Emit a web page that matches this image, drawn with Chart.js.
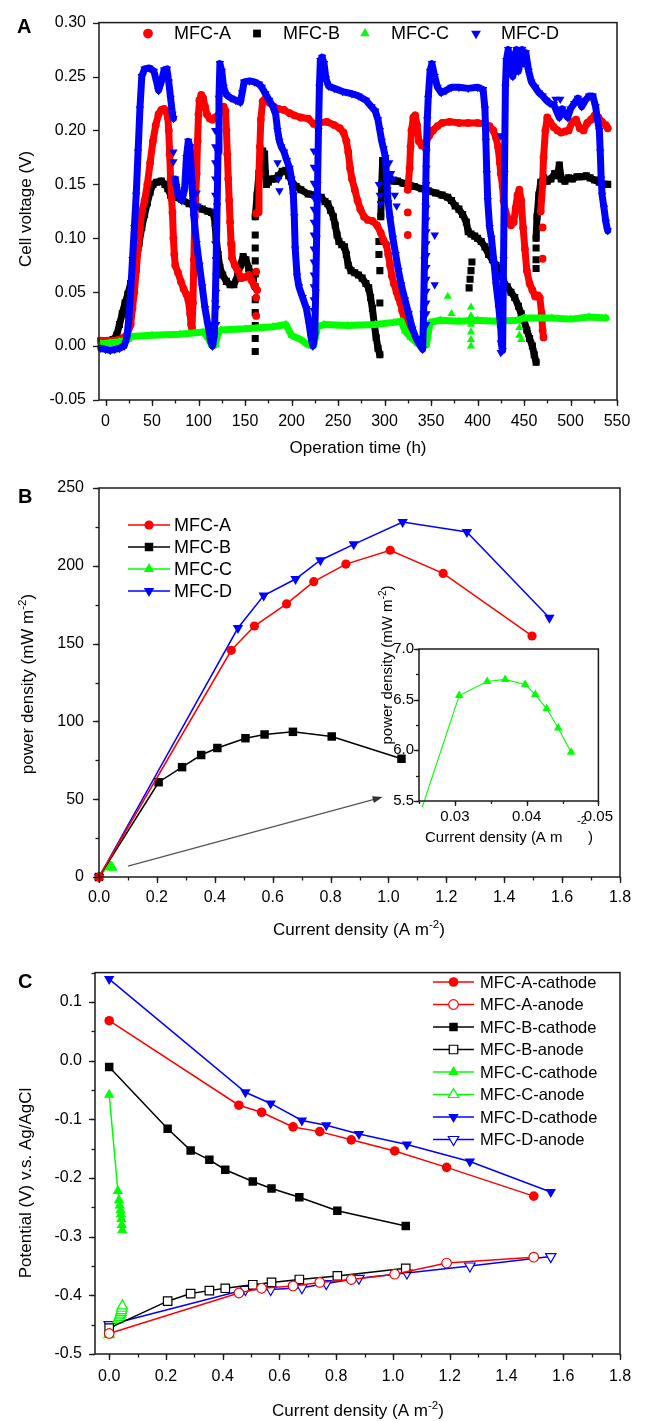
<!DOCTYPE html>
<html><head><meta charset="utf-8">
<script src="https://cdn.jsdelivr.net/npm/chart.js@4.4.1/dist/chart.umd.min.js"></script>
<style>
html,body{margin:0;padding:0;background:#fff;}
#wrap{position:relative;width:648px;height:1421px;overflow:hidden;background:#fff;}
canvas{position:absolute;}
</style></head><body><div id="wrap">
<canvas id="cA" width="648" height="460" style="left:0;top:0"></canvas>
<canvas id="cB" width="648" height="490" style="left:0;top:460px"></canvas>
<canvas id="cI" width="260" height="300" style="left:360px;top:545px"></canvas>
<canvas id="cC" width="648" height="471" style="left:0;top:950px"></canvas>
</div>
<script>
// ---------------- Panel A: cell voltage (V) vs operation time (h) ----------------
const mfcA_line = [[-5,0.005],[2,0.005],[8,0.005],[14,0.006],[20,0.008],[24,0.012],[27,0.02],[29,0.035],[31,0.05],[33,0.07],[35,0.09],[37,0.11],[39,0.125],[42,0.135],[45,0.15],[48,0.17],[51,0.19],[54,0.205],[57,0.215],[60,0.219],[63,0.22],[65,0.218],[67,0.212],[68,0.2],[69,0.178],[70,0.155],[71,0.137],[72,0.124],[73,0.1],[74,0.085],[75,0.075],[78,0.068],[81,0.06],[84,0.053],[87,0.048],[89,0.043],[91,0.03],[92,0.02],[93,0.017],[94,0.04],[95,0.08],[96,0.12],[98,0.16],[99,0.19],[100,0.215],[101,0.228],[103,0.233],[105,0.23],[107,0.222],[109,0.215],[112,0.211],[115,0.21],[118,0.212],[121,0.214],[124,0.218],[127,0.222],[129,0.218],[130,0.2],[131,0.178],[132,0.155],[133,0.135],[134,0.115],[135,0.095],[136,0.082],[139,0.075],[142,0.07],[146,0.063],[150,0.064],[154,0.066],[157,0.061],[160,0.056],[163,0.052],null,
[164,0.124],[165,0.16],[166,0.185],[167,0.21],[169,0.227],[172,0.23],[176,0.226],[181,0.222],[186,0.22],[192,0.219],[198,0.216],[203,0.214],[210,0.212],[218,0.211],[224,0.206],[230,0.207],[238,0.208],[246,0.205],[252,0.202],[256,0.198],[259,0.19],[261,0.18],[263,0.165],[265,0.155],[268,0.145],[271,0.135],[274,0.127],[278,0.12],[282,0.117],[287,0.116],[292,0.112],[296,0.105],[299,0.098],[302,0.094],[304,0.085],[306,0.075],[308,0.065],[310,0.058],[313,0.05],[315,0.045],[317,0.04],[319,0.033],[321,0.025],[324,0.017],[327,0.012],[330,0.01],null,
[325,0.145],[327,0.165],[328,0.185],[329,0.2],[331,0.212],[333,0.214],[335,0.205],[337,0.19],[340,0.186],[344,0.188],[348,0.195],[352,0.2],[357,0.204],[362,0.207],[370,0.208],[380,0.207],[390,0.207],[400,0.207],[408,0.206],[413,0.204],[417,0.2],[420,0.193],[422,0.185],[424,0.17],[425,0.16],[427,0.148],[428,0.135],[430,0.125],[433,0.118],[436,0.112],[439,0.115],[441,0.128],[443,0.14],[445,0.145],[447,0.135],[449,0.11],[451,0.09],[453,0.07],[456,0.058],[459,0.052],[462,0.046],[465,0.047],[467,0.045],[469,0.03],[470,0.015],[471,0.008],null,
[468,0.125],[470,0.15],[471,0.175],[473,0.2],[475,0.212],[478,0.208],[482,0.203],[486,0.2],[490,0.198],[494,0.199],[498,0.2],[502,0.208],[506,0.21],[510,0.202],[514,0.2],[518,0.207],[522,0.21],[526,0.214],[530,0.212],[534,0.208],[538,0.205],[540,0.202]];
const mfcA_dots = [[162,0.123],[162,0.069],[162,0.045],[162,0.028],[325,0.124],[325,0.103],[470,0.11],[470,0.081]];

const mfcB_line = [[-5,0.005],[3,0.005],[8,0.006],[12,0.01],[15,0.02],[18,0.03],[21,0.04],[24,0.048],[27,0.058],[30,0.068],[33,0.08],[36,0.095],[39,0.11],[42,0.122],[45,0.133],[48,0.143],[51,0.15],[55,0.152],[60,0.153],[64,0.15],[67,0.146],[70,0.14],[75,0.138],[82,0.136],[90,0.132],[97,0.13],[104,0.127],[110,0.125],[114,0.124],[117,0.12],[119,0.1],[121,0.085],[123,0.073],[126,0.066],[130,0.06],[134,0.057],[138,0.057],[142,0.065],[145,0.075],[148,0.083],[151,0.08],[154,0.072],[157,0.066],[159,0.062],null,
[161,0.12],[163,0.14],[165,0.16],[167,0.175],[169,0.181],[171,0.178],[172,0.16],[173,0.15],[175,0.152],[178,0.155],[182,0.155],[186,0.158],[190,0.162],[194,0.163],[197,0.158],[200,0.153],[205,0.148],[210,0.145],[218,0.141],[225,0.14],[232,0.138],[236,0.134],[239,0.132],[242,0.126],[245,0.12],[247,0.112],[249,0.103],[251,0.097],[254,0.094],[257,0.092],[259,0.085],[261,0.075],[264,0.07],[268,0.068],[272,0.066],[276,0.063],[280,0.058],[283,0.054],[285,0.045],[287,0.035],[289,0.02],[291,0.008],[293,-0.002],[295,-0.008],null,
[296,0.12],[297,0.15],[298,0.172],[300,0.165],[302,0.157],[306,0.155],[310,0.153],[314,0.153],[320,0.151],[326,0.15],[332,0.148],[340,0.146],[347,0.144],[355,0.142],[362,0.14],[368,0.138],[372,0.135],[376,0.13],[380,0.127],[384,0.122],[388,0.115],[390,0.106],[393,0.104],[397,0.102],[400,0.1],[404,0.097],[408,0.092],[412,0.085],[416,0.08],[420,0.075],[424,0.068],[428,0.06],[432,0.055],[436,0.05],[440,0.045],[444,0.037],[447,0.03],[450,0.024],[453,0.015],[456,0.007],[459,0.0],[461,-0.008],[463,-0.015],null,
[463,0.1],[464,0.12],[466,0.14],[468,0.152],[471,0.156],[475,0.153],[479,0.155],[483,0.16],[486,0.158],[488,0.168],[490,0.155],[494,0.153],[498,0.156],[502,0.155],[507,0.157],[512,0.157],[517,0.158],[521,0.156],[526,0.154],[531,0.152],[535,0.15],[540,0.15]];
const mfcB_dots = [[161,0.103],[161,0.091],[161,0.079],[161,0.067],[161,0.055],[161,0.043],[161,0.031],[161,0.019],[161,0.007],[161,-0.005],[294,0.097],[294,0.085],[295,0.07],[295,0.04],[391,0.054],[392,0.062],[393,0.07],[394,0.078],[463,0.091],[463,0.08],[463,0.072]];

const mfcC_line = [[-5,0.002],[5,0.003],[15,0.004],[24,0.006],[28,0.009],[50,0.01],[80,0.011],[105,0.013],[110,0.008],[114,0.001],[118,0.001],[121,0.012],[124,0.015],[150,0.016],[180,0.018],[194,0.02],[200,0.01],[210,0.006],[218,0.001],[224,0.001],[228,0.018],[235,0.02],[260,0.019],[290,0.02],[310,0.022],[318,0.023],[322,0.014],[328,0.008],[336,0.002],[345,0.001],[349,0.022],[360,0.024],[380,0.023],[400,0.024],[420,0.023],[443,0.024],[450,0.026],[480,0.026],[500,0.025],[520,0.027],[538,0.026]];
const mfcC_dots = [[368,0.046],[372,0.03],[393,0.036],[393,0.028],[393,0.02],[393,0.013],[393,0.006],[393,0.0],[445,0.017],[445,0.01],[447,0.006]];

const mfcD_line = [[-5,-0.002],[0,-0.003],[5,-0.004],[10,-0.003],[15,-0.002],[20,0.0],[23,0.008],[25,0.025],[27,0.05],[29,0.08],[31,0.11],[33,0.14],[35,0.18],[37,0.22],[39,0.25],[42,0.257],[47,0.258],[52,0.255],[55,0.245],[57,0.237],[60,0.245],[63,0.256],[66,0.257],[68,0.245],[70,0.23],[72,0.215],[73,0.211],null,
[75,0.155],[78,0.14],[82,0.135],[85,0.145],[87,0.175],[89,0.19],[91,0.185],[93,0.15],[95,0.12],[98,0.095],[101,0.075],[104,0.055],[107,0.035],[110,0.02],[113,0.005],[115,0.0],[117,0.01],[118,0.04],[119,0.08],[120,0.13],[121,0.18],[122,0.23],[123,0.262],[125,0.255],[127,0.24],[130,0.233],[135,0.23],[140,0.228],[145,0.226],[147,0.235],[149,0.245],[155,0.246],[160,0.245],[165,0.243],[168,0.24],[172,0.234],[176,0.228],[180,0.222],[183,0.215],[185,0.2],[187,0.19],[189,0.185],[192,0.18],[195,0.172],[198,0.165],[200,0.155],[202,0.14],[203,0.12],[204,0.09],[206,0.065],[208,0.055],[212,0.045],[216,0.035],[219,0.02],[221,0.008],[223,0.0],[225,0.01],[226,0.05],[227,0.1],[228,0.15],[229,0.2],[230,0.24],[231,0.265],[233,0.268],[235,0.262],[237,0.248],[240,0.241],[246,0.239],[255,0.236],[265,0.234],[272,0.232],[280,0.228],[286,0.222],[290,0.218],[293,0.21],[295,0.2],[297,0.19],[299,0.183],[301,0.175],[302,0.16],[303,0.145],[304,0.133],[306,0.118],[309,0.1],[312,0.085],[315,0.07],[318,0.057],[322,0.043],[326,0.03],[330,0.016],[334,0.007],[338,0.001],[341,-0.003],[342,0.03],[343,0.08],[344,0.13],[345,0.18],[346,0.21],[347,0.23],[349,0.255],[351,0.262],[354,0.25],[357,0.24],[361,0.235],[366,0.237],[372,0.24],[380,0.24],[390,0.239],[400,0.24],[406,0.238],[408,0.22],[409,0.19],[410,0.16],[411,0.135],[413,0.11],[415,0.1],[418,0.075],[420,0.057],[423,0.035],[425,0.017],[426,0.0],[427,-0.004],[428,0.08],[429,0.16],[430,0.24],[431,0.265],[433,0.275],[436,0.26],[438,0.25],[440,0.27],[442,0.275],[444,0.255],[446,0.265],[448,0.275],[450,0.262],[452,0.272],[455,0.255],[458,0.245],[462,0.24],[466,0.235],[470,0.232],[474,0.228],[478,0.225],[482,0.224],[485,0.218],[488,0.212],[491,0.22],[494,0.215],[497,0.212],[500,0.22],[504,0.225],[508,0.23],[512,0.222],[516,0.228],[520,0.232],[524,0.232],[527,0.222],[529,0.21],[531,0.2],[532,0.18],[533,0.155],[534,0.14],[536,0.128],[538,0.115],[540,0.107]];
const mfcD_dots = [[73,0.18],[73,0.171],[76,0.148],[79,0.14],[98,0.142],[99,0.13],
[118,0.2],[118,0.185],[118,0.17],[118,0.155],[118,0.14],[118,0.125],[118,0.11],[118,0.095],[119,0.08],[119,0.065],[119,0.05],[119,0.035],[119,0.02],
[185,0.17],[186,0.155],[187,0.144],
[224,0.181],[224,0.166],[224,0.151],[224,0.138],[224,0.127],[224,0.115],[224,0.103],[224,0.09],[224,0.078],[224,0.066],[224,0.055],[224,0.043],[224,0.033],
[294,0.15],[295,0.14],[296,0.132],[305,0.17],[307,0.16],[309,0.155],[311,0.14],[313,0.13],
[345,0.18],[345,0.165],[345,0.15],[345,0.14],[345,0.128],[345,0.117],[345,0.106],[345,0.095],[345,0.084],[345,0.073],[345,0.062],[345,0.051],[345,0.04],[345,0.03],[345,0.02],
[354,0.103],[354,0.057],[425,0.195],[425,0.066],[425,0.016],[425,0.003],[425,-0.006],[484,0.229],[489,0.229]];

// ---------------- Panels B & C: current density (A m-2) ----------------
const curA = [0, 0.457, 0.537, 0.648, 0.742, 0.853, 1.006, 1.189, 1.496];
const curB = [0, 0.206, 0.287, 0.353, 0.409, 0.506, 0.572, 0.670, 0.804, 1.045];
const curC = [0, 0.0306, 0.0345, 0.037, 0.0398, 0.0412, 0.0428, 0.0444, 0.0462];
const curD = [0, 0.480, 0.569, 0.679, 0.765, 0.880, 1.049, 1.271, 1.556];

const powA = [0, 145.7, 161.3, 175.5, 189.8, 201.1, 210.0, 195.1, 154.9];
const powB = [0, 60.9, 70.6, 78.4, 82.9, 89.2, 91.6, 93.3, 90.3, 76.0];
const powC = [0, 6.54, 6.68, 6.70, 6.65, 6.55, 6.41, 6.22, 5.98];
const powD = [0, 160.0, 180.9, 191.5, 203.6, 213.8, 228.1, 221.7, 166.6];

const cathA = [0.068, -0.076, -0.088, -0.113, -0.121, -0.135, -0.154, -0.182, -0.231];
const anodA = [-0.465, -0.396, -0.388, -0.384, -0.378, -0.373, -0.364, -0.345, -0.335];
const cathB = [-0.011, -0.116, -0.153, -0.169, -0.186, -0.206, -0.218, -0.233, -0.256, -0.282];
const anodB = [-0.456, -0.410, -0.397, -0.392, -0.388, -0.382, -0.378, -0.373, -0.367, -0.354];
const cathC = [-0.058, -0.222, -0.238, -0.247, -0.255, -0.262, -0.270, -0.280, -0.289];
const anodC = [-0.467, -0.442, -0.438, -0.435, -0.432, -0.429, -0.426, -0.422, -0.418];
const cathD = [0.139, -0.054, -0.073, -0.102, -0.110, -0.125, -0.143, -0.172, -0.224];
const anodD = [-0.450, -0.390, -0.390, -0.387, -0.380, -0.371, -0.362, -0.350, -0.334];

const arrowFrom = [0.1, 7];
const arrowTo = [0.98, 51.4];

// ---------------- helpers ----------------
const FONT = "'Liberation Sans', Arial, Helvetica, sans-serif";
const RED = '#ff0000', BLACK = '#000000', GREEN = '#00ff00', BLUE = '#0000ff';
const AXIS = '#1a1a1a';

function toPts(pairs){
  const out = []; let lastX = 0;
  for (const p of pairs){
    if (p){ out.push({x:p[0], y:p[1]}); lastX = p[0]; }
    else out.push({x:lastX, y:null});
  }
  return out;
}
function zipPts(xs, ys){ return xs.map((x,i)=>({x, y:ys[i]})); }
function fmt(d){ return v => { const s = v.toFixed(d); return /^-0\.0+$/.test(s) ? s.slice(1) : s; }; }

function drawMarker(ctx, style, rot, x, y, r, fill, stroke, lw){
  ctx.beginPath();
  if (style === 'circle') ctx.arc(x, y, r, 0, Math.PI*2);
  else if (style === 'rect'){ const s = r*Math.SQRT1_2; ctx.rect(x-s, y-s, 2*s, 2*s); }
  else {
    let a = (rot||0)*Math.PI/180;
    for (let k=0;k<3;k++){ const px = x+Math.sin(a)*r, py = y-Math.cos(a)*r; if(k) ctx.lineTo(px,py); else ctx.moveTo(px,py); a += 2*Math.PI/3; }
    ctx.closePath();
  }
  ctx.fillStyle = fill; ctx.fill();
  if (lw > 0){ ctx.lineWidth = lw; ctx.strokeStyle = stroke; ctx.stroke(); }
}

// rich text: parts [[text, isSup]]
function drawRich(ctx, parts, x, y, size, rot, align, bold){
  ctx.save();
  ctx.translate(x, y); if (rot) ctx.rotate(rot);
  const f = (s)=> (bold?'bold ':'') + s + 'px ' + FONT;
  let total = 0;
  for (const [t, sup] of parts){ ctx.font = f(sup ? size*0.68 : size); total += ctx.measureText(t).width; }
  let cx = align === 'left' ? 0 : -total/2;
  ctx.textBaseline = 'alphabetic'; ctx.textAlign = 'left'; ctx.fillStyle = '#000';
  for (const [t, sup] of parts){
    ctx.font = f(sup ? size*0.68 : size);
    ctx.fillText(t, cx, sup ? -size*0.42 + size*0.36 : size*0.36);
    cx += ctx.measureText(t).width;
  }
  ctx.restore();
}

function makeFrame(cfg){
  return { id:'frame'+Math.random().toString(36).slice(2), afterDraw(chart){
    const {ctx, chartArea:a, scales} = chart;
    ctx.save();
    ctx.strokeStyle = AXIS; ctx.lineWidth = 1.5;
    ctx.strokeRect(a.left, a.top, a.right-a.left, a.bottom-a.top);
    const tick = (sc, step, len) => {
      if (!step) return;
      const s = Math.ceil((sc.min - 1e-9)/step), e = Math.floor((sc.max + 1e-9)/step);
      for (let i=s;i<=e;i++){
        const p = Math.round(sc.getPixelForValue(i*step)) + 0.5;
        ctx.beginPath();
        if (sc.isHorizontal()){ ctx.moveTo(p, a.bottom); ctx.lineTo(p, a.bottom+len); }
        else { ctx.moveTo(a.left, p); ctx.lineTo(a.left-len, p); }
        ctx.stroke();
      }
    };
    ctx.lineWidth = 1.3;
    tick(scales.x, cfg.xMinor, cfg.minorLen); tick(scales.x, cfg.xMajor, cfg.majorLen);
    tick(scales.y, cfg.yMinor, cfg.minorLen); tick(scales.y, cfg.yMajor, cfg.majorLen);
    ctx.restore();
  }};
}

function makeTexts(items, ox, oy){
  return { id:'texts'+Math.random().toString(36).slice(2), afterDraw(chart){
    const ctx = chart.ctx;
    for (const it of items){
      drawRich(ctx, it.parts, it.x-ox, it.y-oy, it.size, it.rot||0, it.align||'center', it.bold);
    }
  }};
}

function makeLegend(rows, size, oy){
  return { id:'leg'+Math.random().toString(36).slice(2), afterDraw(chart){
    const ctx = chart.ctx;
    ctx.save();
    for (const r of rows){
      const d = chart.data.datasets[r.ds];
      const y = r.y - oy;
      if (r.x1 != null){
        ctx.beginPath(); ctx.strokeStyle = d.borderColor; ctx.lineWidth = d.borderWidth;
        ctx.moveTo(r.x1, y); ctx.lineTo(r.x2, y); ctx.stroke();
      }
      drawMarker(ctx, d.pointStyle, d.pointRotation, r.mx, y, d.pointRadius * (r.scale || 1),
        d.pointBackgroundColor, d.pointBorderColor, d.pointBorderWidth);
      ctx.font = size + 'px ' + FONT; ctx.fillStyle = '#000'; ctx.textAlign = 'left'; ctx.textBaseline = 'middle';
      ctx.fillText(d.label, r.tx, y + 1);
    }
    ctx.restore();
  }};
}

function axisOpts(min, max, step, pad, size, cb, fitFn){
  return { type:'linear', min, max,
    grid:{display:false, drawTicks:false}, border:{display:false},
    ticks:{stepSize:step, includeBounds:false, padding:pad, autoSkip:false, maxRotation:0,
      color:'#000', font:{size, family:FONT}, callback:cb},
    afterFit: fitFn };
}

const baseOpts = { responsive:false, animation:false, devicePixelRatio:1, events:[],
  plugins:{legend:{display:false}, tooltip:{enabled:false}} };

// ---------------- Chart A ----------------
function band(label, pairs, color, style, rot, r, order){
  return {label, data: toPts(pairs), borderColor: color, backgroundColor: color, borderWidth: 7,
    borderCapStyle:'round', borderJoinStyle:'round', pointStyle: style, pointRotation: rot,
    pointRadius: r, pointBackgroundColor: color, pointBorderColor: color, pointBorderWidth: 0,
    tension: 0, spanGaps:false, order, clip: 4};
}
function dots(pairs, color, style, rot, r, order){
  return {label:'', data: toPts(pairs), showLine:false, borderColor: color, backgroundColor: color,
    pointStyle: style, pointRotation: rot, pointRadius: r, pointBackgroundColor: color,
    pointBorderColor: color, pointBorderWidth: 0, order, clip: 4};
}

new Chart(document.getElementById('cA'), {
  type:'line',
  data:{datasets:[
    band('MFC-A', mfcA_line, RED, 'circle', 0, 3.9, 3),
    band('MFC-B', mfcB_line, BLACK, 'rect', 0, 5.0, 4),
    band('MFC-C', mfcC_line, GREEN, 'triangle', 0, 4.7, 2),
    band('MFC-D', mfcD_line, BLUE, 'triangle', 180, 4.9, 1),
    dots(mfcA_dots, RED, 'circle', 0, 3.9, 3),
    dots(mfcB_dots, BLACK, 'rect', 0, 5.0, 4),
    dots(mfcC_dots, GREEN, 'triangle', 0, 4.7, 2),
    dots(mfcD_dots, BLUE, 'triangle', 180, 4.9, 1)
  ]},
  options:{...baseOpts,
    layout:{padding:{left:0, top:18, right:31, bottom:0}},
    scales:{
      x: axisOpts(-7, 550, 50, 12, 16, v=>String(Math.round(v)), s=>{s.height=60;}),
      y: axisOpts(-0.05, 0.30, 0.05, 13, 16, fmt(2), s=>{s.width=99;})
    }},
  plugins:[
    makeFrame({xMajor:50, xMinor:25, yMajor:0.05, yMinor:0, majorLen:6, minorLen:3.5}),
    makeLegend([{ds:0,y:33.5,mx:148,tx:174,scale:1.25},{ds:1,y:33.5,mx:257,tx:283,scale:1.1},{ds:2,y:33.5,mx:365,tx:391,scale:1.15},{ds:3,y:33.5,mx:476,tx:501,scale:1.15}], 18, 0),
    makeTexts([
      {parts:[['A',false]], x:17, y:26, size:20, bold:true, align:'left'},
      {parts:[['Cell voltage (V)',false]], x:25, y:209, size:17, rot:-Math.PI/2},
      {parts:[['Operation time (h)',false]], x:358, y:447, size:17}
    ], 0, 0)
  ]
});

// ---------------- Chart B ----------------
function ser(label, xs, ys, color, style, rot, r, open, lw){
  return {label, data: zipPts(xs, ys), borderColor: color, backgroundColor: color, borderWidth: lw||1.5,
    pointStyle: style, pointRotation: rot, pointRadius: r,
    pointBackgroundColor: open ? '#ffffff' : color, pointBorderColor: color, pointBorderWidth: open ? 1.2 : 0,
    tension:0, clip: 6};
}
const arrowPlugin = { id:'arrowB', afterDatasetsDraw(chart){
  const {ctx, scales:{x, y}} = chart;
  const x1 = x.getPixelForValue(arrowFrom[0]), y1 = y.getPixelForValue(arrowFrom[1]);
  const x2 = x.getPixelForValue(arrowTo[0]), y2 = y.getPixelForValue(arrowTo[1]);
  const ang = Math.atan2(y2-y1, x2-x1);
  ctx.save(); ctx.strokeStyle = '#555'; ctx.fillStyle = '#333'; ctx.lineWidth = 1.3;
  ctx.beginPath(); ctx.moveTo(x1,y1); ctx.lineTo(x2-6*Math.cos(ang), y2-6*Math.sin(ang)); ctx.stroke();
  ctx.beginPath(); ctx.moveTo(x2,y2);
  ctx.lineTo(x2-10*Math.cos(ang)+3.5*Math.sin(ang), y2-10*Math.sin(ang)-3.5*Math.cos(ang));
  ctx.lineTo(x2-10*Math.cos(ang)-3.5*Math.sin(ang), y2-10*Math.sin(ang)+3.5*Math.cos(ang));
  ctx.closePath(); ctx.fill(); ctx.restore();
}};

new Chart(document.getElementById('cB'), {
  type:'line',
  data:{datasets:[
    ser('MFC-A', curA, powA, RED, 'circle', 0, 4.6),
    ser('MFC-B', curB, powB, BLACK, 'rect', 0, 6.0),
    ser('MFC-C', curC, powC, GREEN, 'triangle', 0, 6.0),
    ser('MFC-D', curD, powD, BLUE, 'triangle', 180, 6.0)
  ]},
  options:{...baseOpts,
    layout:{padding:{left:0, top:28, right:28, bottom:0}},
    scales:{
      x: axisOpts(0, 1.8, 0.2, 11, 16, fmt(1), s=>{s.height=73;}),
      y: axisOpts(0, 250, 50, 15, 16, v=>String(Math.round(v)), s=>{s.width=99;})
    }},
  plugins:[
    arrowPlugin,
    makeFrame({xMajor:0.2, xMinor:0.1, yMajor:50, yMinor:25, majorLen:6, minorLen:3.5}),
    makeLegend([{ds:0,y:525,x1:128,x2:170,mx:149,tx:174},{ds:1,y:547,x1:128,x2:170,mx:149,tx:174},{ds:2,y:569,x1:128,x2:170,mx:149,tx:174},{ds:3,y:591,x1:128,x2:170,mx:149,tx:174}], 18, 460),
    makeTexts([
      {parts:[['B',false]], x:18, y:496, size:20, bold:true, align:'left'},
      {parts:[['power density (mW m',false],['-2',true],[')',false]], x:27, y:684, size:17, rot:-Math.PI/2},
      {parts:[['Current density (A m',false],['-2',true],[')',false]], x:359, y:929, size:17}
    ], 0, 460)
  ]
});

// ---------------- Inset (MFC-C power density) ----------------
const whiteArea = { id:'whiteArea', beforeDatasetsDraw(chart){
  const {ctx, chartArea:a} = chart; ctx.save(); ctx.fillStyle = '#fff';
  ctx.fillRect(a.left, a.top, a.right-a.left, a.bottom-a.top); ctx.restore();
}};
const insetTitles = { id:'insetTitles', afterDraw(chart){
  const ctx = chart.ctx;
  drawRich(ctx, [['power density (mW m',false],['-2',true],[')',false]], 387-360, 665-545, 15, -Math.PI/2, 'center');
  ctx.save(); ctx.font = '15px ' + FONT; ctx.fillStyle = '#000'; ctx.textBaseline = 'alphabetic'; ctx.textAlign = 'left';
  ctx.fillText('Current density (A m', 425-360, 842-545);
  ctx.fillText(')', 588-360, 842-545);
  ctx.font = '11px ' + FONT; ctx.fillText('-2', 577-360, 824-545);
  ctx.restore();
}};
new Chart(document.getElementById('cI'), {
  type:'line',
  data:{datasets:[ ser('MFC-C', curC, powC, GREEN, 'triangle', 0, 5.0, false, 1.1) ]},
  options:{...baseOpts,
    layout:{padding:{left:0, top:104, right:19, bottom:0}},
    scales:{
      x: axisOpts(0.025, 0.05, 0.01, 7, 15, fmt(2), s=>{s.height=44;}),
      y: axisOpts(5.5, 7.0, 0.5, 5, 15, fmt(1), s=>{s.width=59;})
    }},
  plugins:[ whiteArea,
    makeFrame({xMajor:0.01, xMinor:0.005, yMajor:0.5, yMinor:0.25, majorLen:5, minorLen:3}),
    insetTitles ]
});

// ---------------- Chart C ----------------
new Chart(document.getElementById('cC'), {
  type:'line',
  data:{datasets:[
    ser('MFC-A-cathode', curA, cathA, RED, 'circle', 0, 4.8),
    ser('MFC-A-anode', curA, anodA, RED, 'circle', 0, 4.8, true),
    ser('MFC-B-cathode', curB, cathB, BLACK, 'rect', 0, 6.0),
    ser('MFC-B-anode', curB, anodB, BLACK, 'rect', 0, 6.0, true),
    ser('MFC-C-cathode', curC, cathC, GREEN, 'triangle', 0, 6.0),
    ser('MFC-C-anode', curC, anodC, GREEN, 'triangle', 0, 6.0, true),
    ser('MFC-D-cathode', curD, cathD, BLUE, 'triangle', 180, 6.0),
    ser('MFC-D-anode', curD, anodD, BLUE, 'triangle', 180, 6.0, true)
  ]},
  options:{...baseOpts,
    layout:{padding:{left:0, top:17, right:28, bottom:0}},
    scales:{
      x: axisOpts(-0.05, 1.8, 0.2, 13, 16, fmt(1), s=>{s.height=67;}),
      y: axisOpts(-0.5, 0.15, 0.1, 13, 16, fmt(1), s=>{s.width=95;})
    }},
  plugins:[
    makeFrame({xMajor:0.2, xMinor:0.1, yMajor:0.1, yMinor:0.05, majorLen:6, minorLen:3.5}),
    makeLegend([0,1,2,3,4,5,6,7].map(i=>({ds:i, y:982+i*22.5, x1:433, x2:474, mx:453.5, tx:480})), 16.5, 950),
    makeTexts([
      {parts:[['C',false]], x:18, y:981, size:20, bold:true, align:'left'},
      {parts:[['Potential (V) v.s. Ag/AgCl',false]], x:25, y:1183, size:17, rot:-Math.PI/2},
      {parts:[['Current density (A m',false],['-2',true],[')',false]], x:358, y:1410, size:17}
    ], 0, 950)
  ]
});
</script>
</body></html>
